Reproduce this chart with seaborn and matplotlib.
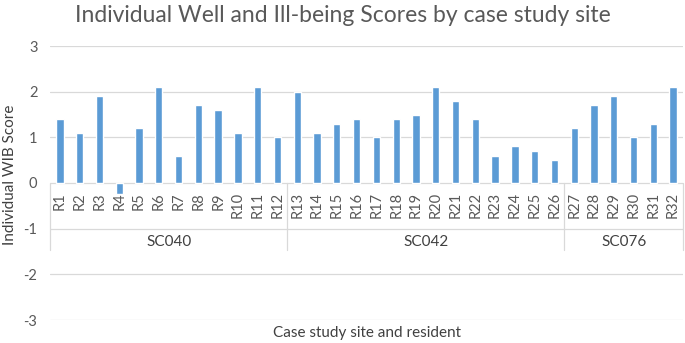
import matplotlib
matplotlib.use("Agg")
import matplotlib.pyplot as plt
import seaborn as sns
import pandas as pd

residents = [f"R{i}" for i in range(1, 33)]
scores = [1.4, 1.1, 1.9, -0.25, 1.2, 2.1, 0.6, 1.7, 1.6, 1.1, 2.1, 1.0,
          2.0, 1.1, 1.3, 1.4, 1.0, 1.4, 1.5, 2.1, 1.8, 1.4, 0.6, 0.8, 0.7, 0.5,
          1.2, 1.7, 1.9, 1.0, 1.3, 2.1]
sites = ["SC040"] * 12 + ["SC042"] * 14 + ["SC076"] * 6
site_names = ["SC040", "SC042", "SC076"]
yticks = [-3, -2, -1, 0, 1, 2, 3]

df = pd.DataFrame({"resident": residents, "score": scores, "site": sites})

sns.set_theme(style="white")
plt.rcParams["font.family"] = ["Lato", "DejaVu Sans"]

fig = plt.figure(figsize=(6.85, 3.43), dpi=100)
ax = fig.add_axes([50 / 685, 1 - 320 / 343, 633 / 685, (320 - 46) / 343])

sns.barplot(data=df, x="resident", y="score", order=residents, color="#5B9BD5",
            width=0.37, saturation=1, ax=ax)

ax.set_ylim(-3, 3)
ax.set_xlim(-0.5, len(residents) - 0.5)
ax.set_yticks(yticks)
ax.set_yticklabels([str(t) for t in yticks], color="#595959", fontsize=10.5)
ax.tick_params(axis="y", length=0, pad=9)
ax.set_xticks([])
ax.set_xlabel("")
ax.set_ylabel("")
for s in ax.spines.values():
    s.set_visible(False)
for t in yticks:
    ax.axhline(t, color="#D9D9D9", lw=0.9, zorder=0)

# category labels
for i, r in enumerate(residents):
    ax.text(i, -0.2, r, rotation=90, ha="center", va="top", fontsize=10.5, color="#595959")

# group separators and labels
bounds = [0]
for name in site_names:
    bounds.append(bounds[-1] + sites.count(name))
for b in bounds:
    ax.plot([b - 0.5, b - 0.5], [0, -1.47], color="#D9D9D9", lw=0.9, clip_on=False)
for k, name in enumerate(site_names):
    mid = (bounds[k] + bounds[k + 1] - 1) / 2
    ax.text(mid, -1.3, name, ha="center", va="center", fontsize=11, color="#404040")

fig.text(343 / 685, 1 - 16 / 343, "Individual Well and Ill-being Scores by case study site",
         ha="center", va="center", fontsize=16.5, color="#595959")
fig.text(367 / 685, 1 - 333 / 343, "Case study site and resident", ha="center", va="center",
         fontsize=11, color="#404040")
fig.text(10 / 685, 1 - 175 / 343, "Individual WIB Score", rotation=90, ha="center", va="center",
         fontsize=11, color="#404040")

fig.savefig("out.png", dpi=100)
